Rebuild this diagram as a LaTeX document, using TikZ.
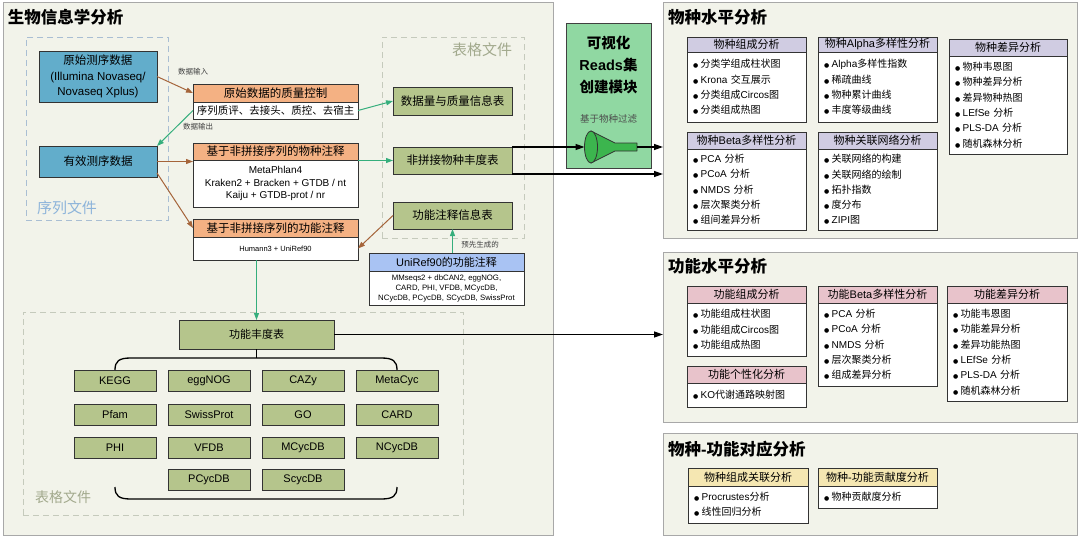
\documentclass[tikz,border=0pt]{standalone}
\usepackage{fontspec}
\setmainfont{Liberation Sans}
\newfontfamily\cjkfont{Noto Sans CJK SC}
\newfontfamily\dejavu{DejaVu Sans}
\XeTeXinterchartokenstate=1
\newXeTeXintercharclass\CJKclass
\newcount\cjkc
\cjkc="2E80
\loop\XeTeXcharclass\cjkc=\CJKclass\ifnum\cjkc<"9FFF\advance\cjkc by 1\repeat
\cjkc="FF00
\loop\XeTeXcharclass\cjkc=\CJKclass\ifnum\cjkc<"FFEF\advance\cjkc by 1\repeat
\XeTeXinterchartoks 0 \CJKclass={\begingroup\cjkfont}
\XeTeXinterchartoks 4095 \CJKclass={\begingroup\cjkfont}
\XeTeXinterchartoks \CJKclass 0={\endgroup}
\XeTeXinterchartoks \CJKclass 4095={\endgroup}
\usetikzlibrary{arrows.meta}
\definecolor{panelbg}{HTML}{F2F3EA}
\definecolor{panelbd}{HTML}{A8A8A8}
\definecolor{bluef}{HTML}{62ADCB}
\definecolor{orgf}{HTML}{F4B183}
\definecolor{tabf}{HTML}{B5C58C}
\definecolor{lavf}{HTML}{D0CCE2}
\definecolor{pinkf}{HTML}{E8C3CB}
\definecolor{yelf}{HTML}{F5E7B2}
\definecolor{unif}{HTML}{A9C3F3}
\definecolor{modf}{HTML}{90D8A2}
\definecolor{brownc}{HTML}{A5643A}
\definecolor{greenc}{HTML}{35AE7C}
\definecolor{seqc}{HTML}{8DB4DA}
\definecolor{tabc}{HTML}{A2A98D}
\definecolor{seqd}{HTML}{A9BED3}
\definecolor{tabd}{HTML}{C5CABC}
\definecolor{funf}{HTML}{3CB54E}
\newcommand\bl{{\dejavu\fontsize{6}{6}\selectfont ●}\hspace{2.5pt}}
\newcommand\placebox[7]{%
 \pgfmathsetmacro\pbw{#5-#3}\pgfmathsetmacro\pbh{#6-#4}%
 \pgfmathsetmacro\pbx{(#3+#5)/2}\pgfmathsetmacro\pby{(#4+#6)/2}%
 \node[#1,minimum width=\pbw pt,minimum height=\pbh pt] (#2) at (\pbx,\pby) {#7};}
\newcommand\lbox[9]{%
 \pgfmathsetmacro\pbw{#6-#3}\pgfmathsetmacro\pbh{#5-#4}\pgfmathsetmacro\pbt{#6-#3-12}%
 \pgfmathsetmacro\pbx{(#3+#6)/2}\pgfmathsetmacro\pby{(#4+#5)/2}%
 \node[#1,minimum width=\pbw pt,minimum height=\pbh pt] (#2h) at (\pbx,\pby) {#8};
 \pgfmathsetmacro\pbh{#7-#5}\pgfmathsetmacro\pby{(#5+#7)/2}%
 \node[listbody,minimum width=\pbw pt,minimum height=\pbh pt,text width=\pbt pt] (#2b) at (\pbx,\pby) {#9};}
\tikzset{
 every node/.style={inner sep=0pt, outer sep=0pt},
 panel/.style={draw=panelbd, fill=panelbg, line width=0.9pt},
 ptitle/.style={font=\fontsize{16.5}{18}\selectfont\bfseries, anchor=west},
 bx/.style={draw=black!80, line width=0.9pt, align=center},
 bluebox/.style={bx, fill=bluef, font=\fontsize{11.5}{15.5}\selectfont},
 orghead/.style={bx, fill=orgf, font=\fontsize{11.5}{13}\selectfont},
 whitebody/.style={bx, fill=white},
 tabbox/.style={bx, fill=tabf, font=\fontsize{11.5}{13}\selectfont},
 dbbox/.style={bx, fill=tabf, font=\fontsize{11}{13}\selectfont},
 lavhead/.style={bx, fill=lavf, font=\fontsize{11}{13}\selectfont},
 pinkhead/.style={bx, fill=pinkf, font=\fontsize{11}{13}\selectfont},
 yelhead/.style={bx, fill=yelf, font=\fontsize{11}{13}\selectfont},
 unihead/.style={bx, fill=unif, font=\fontsize{11}{13}\selectfont},
 listbody/.style={bx, fill=white, align=left, font=\fontsize{10}{15.3}\selectfont},
 dashbox/.style={dash pattern=on 6pt off 4pt, line width=0.9pt},
 brarr/.style={draw=brownc, line width=1pt, -{Triangle[length=7pt,width=5pt]}},
 grarr/.style={draw=greenc, line width=1pt, -{Triangle[length=7pt,width=5pt]}},
 bkarr/.style={draw=black, line width=1.3pt, -{Triangle[length=9pt,width=6pt]}},
 bracel/.style={draw=black, line width=1.3pt},
 smalllbl/.style={font=\fontsize{7.5}{9}\selectfont, text=black!75},
}
\begin{document}
\begin{tikzpicture}[x=1pt,y=-1pt]
\useasboundingbox (0,0) rectangle (1080,538);
\fill[white] (0,0) rectangle (1080,538);
% panels
\placebox{panel}{bio}{3}{2}{553}{535}{}
\placebox{panel}{sppan}{663}{2}{1077}{238}{}
\placebox{panel}{fnpan}{663}{252}{1077}{422}{}
\placebox{panel}{sfpan}{663}{433}{1077}{535}{}
\node[ptitle] (biot) at (8,17) {生物信息学分析};
\node[ptitle] (spt) at (668,17) {物种水平分析};
\node[ptitle] (fnt) at (668,266) {功能水平分析};
\node[ptitle] (sft) at (668,449) {物种-功能对应分析};
% dashed groups
\placebox{dashbox,draw=seqd}{seqgrp}{26}{37}{168}{220}{}
\placebox{dashbox,draw=tabd}{tabgrp}{382}{37}{524}{238}{}
\placebox{dashbox,draw=tabd}{dbgrp}{23}{312}{463}{515}{}
\node[font=\fontsize{15}{15}\selectfont, text=seqc, anchor=west] (seql) at (37,208) {序列文件};
\node[font=\fontsize{15}{15}\selectfont, text=tabc, anchor=west] (tabl) at (452,50) {表格文件};
\node[font=\fontsize{14}{14}\selectfont, text=tabc, anchor=west] (dbl) at (35,497) {表格文件};
% sequence boxes
\placebox{bluebox}{raw}{39}{51}{157}{102}{原始测序数据\\(Illumina Novaseq/\\Novaseq Xplus)}
\placebox{bluebox}{eff}{39}{146}{157}{177}{有效测序数据}
% processing boxes
\placebox{orghead}{qch}{193}{84}{358}{102}{原始数据的质量控制}
\placebox{whitebody,font=\fontsize{10.5}{12}\selectfont}{qcb}{193}{102}{358}{119}{序列质评、去接头、质控、去宿主}
\placebox{orghead}{sph}{193}{143}{358}{160}{基于非拼接序列的物种注释}
\placebox{whitebody,font=\fontsize{10}{12.5}\selectfont}{spb}{193}{160}{358}{207}{MetaPhlan4\\Kraken2 + Bracken + GTDB / nt\\Kaiju + GTDB-prot / nr}
\placebox{orghead}{fnh}{193}{219}{358}{237}{基于非拼接序列的功能注释}
\placebox{whitebody,font=\fontsize{7.5}{9}\selectfont}{fnb}{193}{237}{358}{260}{Humann3 + UniRef90}
% tables
\placebox{tabbox}{t1}{393}{87}{512}{115}{数据量与质量信息表}
\placebox{tabbox}{t2}{393}{147}{512}{174}{非拼接物种丰度表}
\placebox{tabbox}{t3}{393}{202}{512}{229}{功能注释信息表}
\placebox{unihead}{unh}{369}{253}{524}{271}{UniRef90的功能注释}
\placebox{whitebody,font=\fontsize{7.8}{10}\selectfont}{unb}{369}{271}{524}{305}{MMseqs2 + dbCAN2, eggNOG,\\CARD, PHI, VFDB, MCycDB,\\NCycDB, PCycDB, SCycDB, SwissProt}
% labels
\node[smalllbl] (lin) at (193,72) {数据输入};
\node[smalllbl] (lout) at (198,127) {数据输出};
\node[smalllbl] (lpre) at (480,245) {预先生成的};
% module
\placebox{draw=black!75,line width=0.9pt,fill=modf}{mod}{566}{23}{651}{168}{}
\node[font=\fontsize{14.5}{22}\selectfont\bfseries, align=center] (modt) at (608.5,65) {可视化\\Reads集\\创建模块};
\node[font=\fontsize{9.5}{10}\selectfont, text=black!70] (modl) at (608.5,119) {基于物种过滤};
\draw[fill=funf, draw=black!80, line width=0.8pt, line join=round] (591,131) -- (615,143) -- (637,143) -- (637,151) -- (615,151) -- (591,163) -- cycle;
\draw[fill=funf, draw=black!80, line width=0.8pt] (591,147) ellipse [x radius=6.5, y radius=16];
\coordinate (fin) at (584.5,147);
\coordinate (fout) at (637,147);
% functional table and databases
\placebox{tabbox,font=\fontsize{11}{13}\selectfont}{ftab}{179}{320}{334}{349}{功能丰度表}
\placebox{dbbox}{db1}{74}{370}{156}{391}{KEGG}
\placebox{dbbox}{db2}{168}{370}{250}{391}{eggNOG}
\placebox{dbbox}{db3}{262}{370}{344}{391}{CAZy}
\placebox{dbbox}{db4}{356}{370}{438}{391}{MetaCyc}
\placebox{dbbox}{db5}{74}{404}{156}{425}{Pfam}
\placebox{dbbox}{db6}{168}{404}{250}{425}{SwissProt}
\placebox{dbbox}{db7}{262}{404}{344}{425}{GO}
\placebox{dbbox}{db8}{356}{404}{438}{425}{CARD}
\placebox{dbbox}{db9}{74}{437}{156}{458}{PHI}
\placebox{dbbox}{db10}{168}{437}{250}{458}{VFDB}
\placebox{dbbox}{db11}{262}{437}{344}{458}{MCycDB}
\placebox{dbbox}{db12}{356}{437}{438}{458}{NCycDB}
\placebox{dbbox}{db13}{168}{469}{250}{490}{PCycDB}
\placebox{dbbox}{db14}{262}{469}{344}{490}{ScycDB}
\draw[bracel] (ftab.south) -- ++(0,9);
\draw[bracel] (115,370) .. controls (115,361) and (119,358) .. (131,358) -- (381,358) .. controls (393,358) and (397,361) .. (397,370);
\draw[bracel] (115,487) .. controls (115,496) and (119,499) .. (131,499) -- (381,499) .. controls (393,499) and (397,496) .. (397,487);
% right side boxes
\lbox{lavhead}{sp1}{687}{37}{52}{806}{122}{物种组成分析}{\bl 分类学组成柱状图\\\bl Krona 交互展示\\\bl 分类组成Circos图\\\bl 分类组成热图}
\lbox{lavhead}{sp2}{818}{37}{52}{937}{122}{物种Alpha多样性分析}{\bl Alpha多样性指数\\\bl 稀疏曲线\\\bl 物种累计曲线\\\bl 丰度等级曲线}
\lbox{lavhead}{sp3}{949}{39}{56}{1067}{154}{物种差异分析}{\bl 物种韦恩图\\\bl 物种差异分析\\\bl 差异物种热图\\\bl LEfSe 分析\\\bl PLS-DA 分析\\\bl 随机森林分析}
\lbox{lavhead}{sp4}{687}{132}{149}{806}{230}{物种Beta多样性分析}{\bl PCA 分析\\\bl PCoA 分析\\\bl NMDS 分析\\\bl 层次聚类分析\\\bl 组间差异分析}
\lbox{lavhead}{sp5}{818}{132}{149}{937}{230}{物种关联网络分析}{\bl 关联网络的构建\\\bl 关联网络的绘制\\\bl 拓扑指数\\\bl 度分布\\\bl ZIPI图}
\lbox{pinkhead}{fn1}{687}{286}{303}{806}{356}{功能组成分析}{\bl 功能组成柱状图\\\bl 功能组成Circos图\\\bl 功能组成热图}
\lbox{pinkhead}{fn2}{687}{366}{383}{806}{407}{功能个性化分析}{\bl KO代谢通路映射图}
\lbox{pinkhead}{fn3}{818}{286}{303}{937}{386}{功能Beta多样性分析}{\bl PCA 分析\\\bl PCoA 分析\\\bl NMDS 分析\\\bl 层次聚类分析\\\bl 组成差异分析}
\lbox{pinkhead}{fn4}{947}{286}{303}{1067}{401}{功能差异分析}{\bl 功能韦恩图\\\bl 功能差异分析\\\bl 差异功能热图\\\bl LEfSe 分析\\\bl PLS-DA 分析\\\bl 随机森林分析}
\lbox{yelhead}{sf1}{688}{468}{486}{808}{523}{物种组成关联分析}{\bl Procrustes分析\\\bl 线性回归分析}
\lbox{yelhead}{sf2}{818}{468}{486}{937}{508}{物种-功能贡献度分析}{\bl 物种贡献度分析}
% connectors
\draw[brarr] (raw.east) -- (qch.west);
\draw[grarr] (qcb.west) -- (eff.north east);
\draw[brarr] (eff.east) -- (eff.east -| sph.west);
\draw[brarr] ([yshift=4pt]eff.south east) -- (fnh.west);
\draw[grarr] (qcb.east) -- (t1.west);
\draw[grarr] (t2.west -| sph.east) -- (t2.west);
\draw[brarr] (t3.west) -- (fnb.east);
\draw[grarr] (t3.south |- unh.north) -- (t3.south);
\draw[grarr] (ftab.north |- fnb.south) -- (ftab.north);
\draw[bkarr] (t2.north east) -- (fin);
\draw[bkarr] (fout) -- (fout -| sppan.west);
\draw[bkarr] (t2.south east) -- (t2.south east -| sppan.west);
\draw[bkarr] (ftab.east) -- (ftab.east -| fnpan.west);
\end{tikzpicture}
\end{document}
